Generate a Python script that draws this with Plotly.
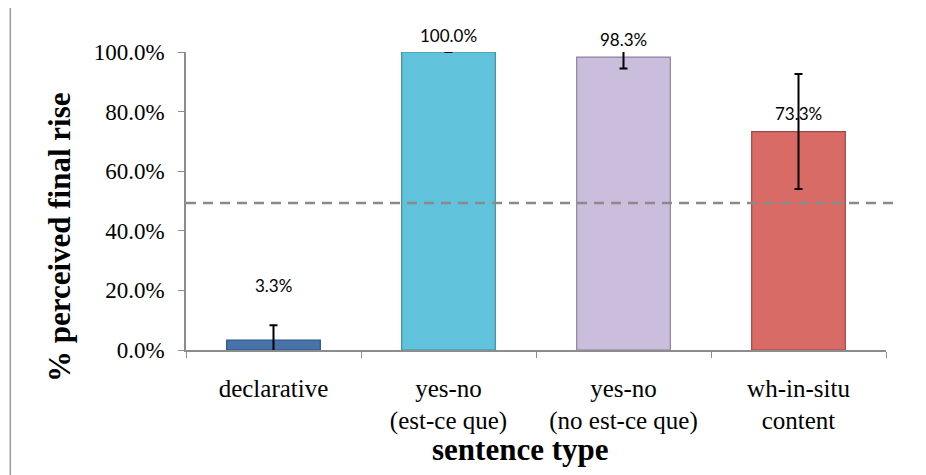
import plotly.graph_objects as go

# sentence types and perceived final rise (proportions)
categories = ["declarative", "yes-no<br>(est-ce que)", "yes-no<br>(no est-ce que)", "wh-in-situ<br>content"]
rise = [0.033, 1.000, 0.983, 0.733]
rise_err = [0.050, 0.000, 0.038, 0.193]
chance_level = 0.493

bar_colors = ["#4573AA", "#60C3DB", "#CBBDDC", "#D86B66"]
edge_colors = ["#2F5280", "#3C8FA3", "#8E819E", "#9E4845"]
label_shift = [55, 17, 18, 18]   # px above bar top (declarative label was moved up)

serif = "Liberation Serif"
axis_grey = "#8C8C8C"

fig = go.Figure()
fig.add_trace(go.Bar(
    x=categories, y=rise,
    width=0.535,
    marker=dict(color=bar_colors, line=dict(color=edge_colors, width=1.2)),
    error_y=dict(type="data", array=rise_err, color="black", thickness=2, width=4),
    hoverinfo="skip",
))

# data labels
for c, v, s in zip(categories, rise, label_shift):
    fig.add_annotation(
        x=c, y=v, text=f"{v:.1%}", showarrow=False,
        yshift=s, yanchor="middle",
        font=dict(family="Lato", size=17, color="black"),
    )

# chance line
fig.add_shape(type="line", xref="paper", yref="y",
              x0=0.0, x1=1.016, y0=chance_level, y1=chance_level,
              line=dict(color="#8A8A8A", width=2.5, dash="10px,7px"))

# chart frame (only left and top edges are in view)
fig.add_shape(type="path", xref="paper", yref="paper",
              path="M -0.251,-0.45 L -0.251,1.161 L 1.2,1.161",
              line=dict(color="#9A9A9A", width=1.5))

# axis titles
fig.add_annotation(xref="paper", yref="paper", x=-0.181, y=0.38,
                   xanchor="center", yanchor="middle",
                   text="<b>% perceived final rise</b>", textangle=-90, showarrow=False,
                   font=dict(family=serif, size=31, color="black"))
fig.add_annotation(xref="paper", yref="paper", x=0.477, y=-0.334,
                   xanchor="center", yanchor="middle",
                   text="<b>sentence type</b>", showarrow=False,
                   font=dict(family=serif, size=31, color="black"))

# page body has an 8px margin, so the figure is shrunk by that much
fig.update_layout(
    width=918, height=467,
    margin=dict(l=178, r=40, t=44, b=125),
    paper_bgcolor="white", plot_bgcolor="white",
    showlegend=False,
    font=dict(family=serif, color="black"),
)
fig.update_xaxes(
    showline=True, linecolor=axis_grey, linewidth=1.5,
    ticks="outside", tickson="boundaries", ticklen=6, tickcolor=axis_grey,
    tickfont=dict(family=serif, size=25, color="black"),
    ticklabelstandoff=15,
    showgrid=False,
)
fig.update_yaxes(
    range=[0, 1], dtick=0.2, tickformat=".1%",
    showline=True, linecolor=axis_grey, linewidth=1.5,
    ticks="outside", ticklen=6, tickcolor=axis_grey,
    tickfont=dict(family=serif, size=23, color="black"),
    ticklabelstandoff=9,
    showgrid=False, zeroline=False,
)

fig.write_html("out.html")
